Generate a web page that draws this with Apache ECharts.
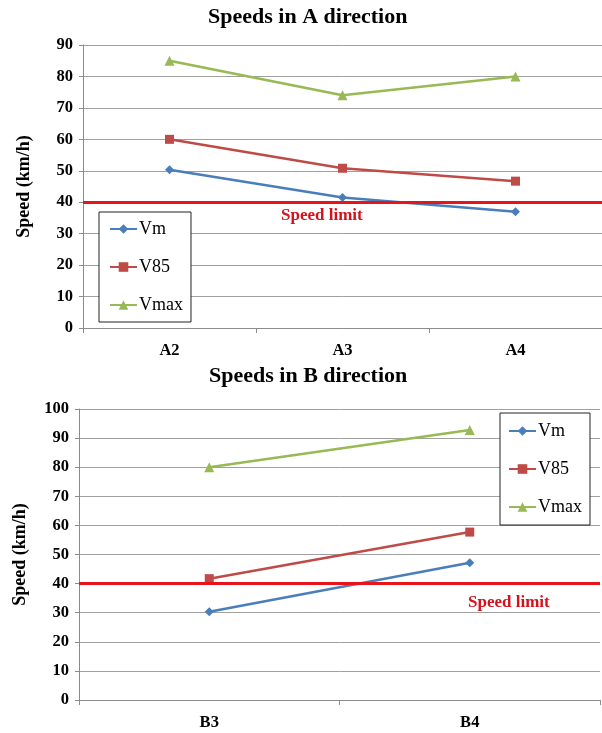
<!DOCTYPE html>
<html>
<head>
<meta charset="utf-8">
<script src="https://cdn.jsdelivr.net/npm/echarts@6/dist/echarts.min.js"></script>
<style>
html,body{margin:0;padding:0;background:#fff;}
#c{width:602px;height:733px;}
</style>
</head>
<body>
<div id="c"></div>
<script>
// ---- data ----
var catsA = ['A2', 'A3', 'A4'];
var vmA = [50.3, 41.5, 37.0];
var v85A = [60, 50.8, 46.7];
var vmaxA = [85, 74, 80];

var catsB = ['B3', 'B4'];
var vmB = [30.3, 47.2];
var v85B = [41.7, 57.7];
var vmaxB = [80, 92.8];

var speedLimit = 40;
var yTicksA = {min: 0, max: 90, interval: 10};
var yTicksB = {min: 0, max: 100, interval: 10};

var titleA = 'Speeds in A direction';
var titleB = 'Speeds in B direction';
var yName = 'Speed (km/h)';
var limitLabel = 'Speed limit';
var seriesNames = ['Vm', 'V85', 'Vmax'];

// ---- styles ----
var FONT = '"Liberation Serif", "Times New Roman", serif';
var COLORS = ['#4a7ebb', '#be4b48', '#98b954'];
var SYMBOLS = ['diamond', 'rect', 'triangle'];
var SYMSIZE = [9, 9, 10];
var RED = '#e8141c';

var chart = echarts.init(document.getElementById('c'), null, {renderer: 'canvas'});

function yAxis(gi, t) {
  return {
    type: 'value', gridIndex: gi, min: t.min, max: t.max, interval: t.interval,
    name: yName, nameLocation: 'middle', nameGap: 50, nameRotate: 90,
    nameTextStyle: {fontFamily: FONT, fontWeight: 'bold', fontSize: 18, color: '#000'},
    axisLine: {show: true, lineStyle: {color: '#8c8c8c', width: 1}},
    axisTick: {show: true, inside: false, length: 4, lineStyle: {color: '#8c8c8c'}},
    axisLabel: {fontFamily: FONT, fontWeight: 'bold', fontSize: 16.5, color: '#000', margin: 10},
    splitLine: {show: true, lineStyle: {color: '#a0a0a0', width: 1}}
  };
}
function xAxis(gi, cats) {
  return {
    type: 'category', gridIndex: gi, data: cats, boundaryGap: true,
    axisLine: {show: true, lineStyle: {color: '#8c8c8c', width: 1}},
    axisTick: {show: true, inside: false, length: 5, alignWithLabel: false, lineStyle: {color: '#8c8c8c'}},
    axisLabel: {fontFamily: FONT, fontWeight: 'bold', fontSize: 16.5, color: '#000', margin: 14},
    splitLine: {show: false}
  };
}
function mkSeries(gi, arrs, withLimit) {
  return arrs.map(function (d, i) {
    var s = {
      name: seriesNames[i], type: 'line', xAxisIndex: gi, yAxisIndex: gi, data: d,
      symbol: SYMBOLS[i], symbolSize: SYMSIZE[i], showAllSymbol: true,
      lineStyle: {color: COLORS[i], width: 2.5},
      itemStyle: {color: COLORS[i]},
      animation: false, z: 3
    };
    if (i === 0 && withLimit) {
      s.markLine = {
        silent: true, symbol: 'none', animation: false,
        lineStyle: {color: RED, width: 3, type: 'solid'},
        label: {show: false},
        data: [{yAxis: speedLimit}]
      };
    }
    return s;
  });
}
function legend(left, top, pad, gap) {
  return {
    data: seriesNames.map(function (n) { return {name: n}; }),
    orient: 'vertical', left: left, top: top,
    padding: pad, itemGap: gap, itemWidth: 27, itemHeight: 12,
    borderColor: '#222', borderWidth: 1, backgroundColor: '#fff',
    textStyle: {fontFamily: FONT, fontSize: 18, color: '#000', padding: [0, 0, 0, -3]},
    selectedMode: false
  };
}

var option = {
  backgroundColor: '#fff',
  animation: false,
  title: [
    {text: titleA, left: 208, top: 6, padding: 0,
     textStyle: {fontFamily: FONT, fontWeight: 'bold', fontSize: 22, color: '#000'}},
    {text: titleB, left: 209, top: 365, padding: 0,
     textStyle: {fontFamily: FONT, fontWeight: 'bold', fontSize: 22, color: '#000'}}
  ],
  grid: [
    {left: 83, top: 45, width: 520, height: 283, containLabel: false},
    {left: 79, top: 409, width: 521, height: 291, containLabel: false}
  ],
  xAxis: [xAxis(0, catsA), xAxis(1, catsB)],
  yAxis: [yAxis(0, yTicksA), yAxis(1, yTicksB)],
  legend: [legend(99, 212, [8, 8, 8, 10], 20), legend(500, 413, [9, 8, 9, 8], 20)],
  series: mkSeries(0, [vmA, v85A, vmaxA], true).concat(mkSeries(1, [vmB, v85B, vmaxB], true)),
  graphic: [
    {type: 'text', left: 281, top: 207, z: 10,
     style: {text: limitLabel, fill: '#d4121d', font: 'bold 17px ' + FONT}},
    {type: 'text', left: 468, top: 594, z: 10,
     style: {text: limitLabel, fill: '#d4121d', font: 'bold 17px ' + FONT}}
  ]
};
chart.setOption(option);
</script>
</body>
</html>
